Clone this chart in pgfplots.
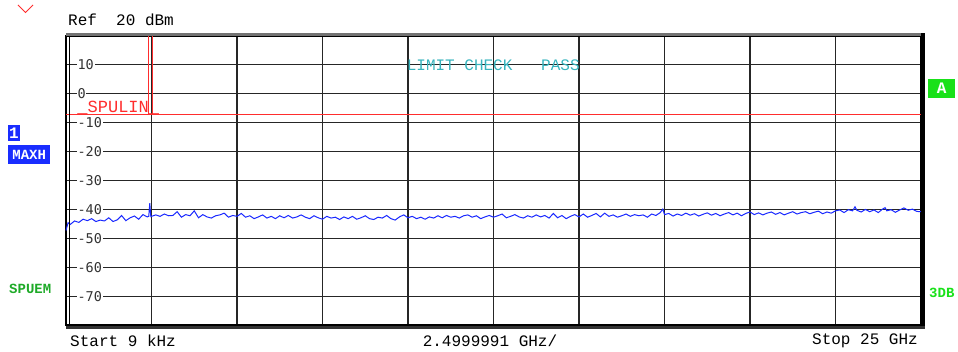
\documentclass[border=0pt]{standalone}
\usepackage{pgfplots}
\pgfplotsset{compat=1.18}
\usepackage{pgfplotstable}
\usepackage{fontspec}
\setmainfont{Liberation Mono}
\newfontfamily\tickfont{DejaVu Sans Mono}
\definecolor{trace}{RGB}{25,40,255}
\definecolor{lim}{RGB}{255,45,45}
\definecolor{cyantxt}{RGB}{55,180,190}
\definecolor{grn}{RGB}{30,170,40}
\definecolor{brgrn}{RGB}{25,225,25}
\definecolor{boxblue}{RGB}{25,45,255}
\pgfplotstableread{
f v
0.000 -47.3
0.060 -44.6
0.125 -45.2
0.250 -44.0
0.375 -44.5
0.500 -43.4
0.625 -43.9
0.750 -43.2
0.875 -44.2
1.000 -43.7
1.125 -44.0
1.250 -42.9
1.375 -44.2
1.500 -43.6
1.625 -42.1
1.750 -43.9
1.875 -42.9
2.000 -42.3
2.125 -43.4
2.250 -41.8
2.375 -42.6
2.420 -42.4
2.450 -37.8
2.480 -42.5
2.625 -41.9
2.750 -42.4
2.875 -41.6
3.000 -42.2
3.125 -42.1
3.250 -40.8
3.375 -42.7
3.500 -41.8
3.625 -42.2
3.750 -40.5
3.875 -42.9
4.000 -41.8
4.125 -42.6
4.250 -43.0
4.375 -42.2
4.500 -41.9
4.625 -41.3
4.750 -42.7
4.875 -42.1
5.000 -42.4
5.125 -41.4
5.250 -42.7
5.375 -42.2
5.500 -43.2
5.625 -42.6
5.750 -41.9
5.875 -43.0
6.000 -42.4
6.125 -43.2
6.250 -42.2
6.375 -42.9
6.500 -42.1
6.625 -43.0
6.750 -42.6
6.875 -41.9
7.000 -42.7
7.125 -43.2
7.250 -42.2
7.375 -42.9
7.500 -43.4
7.625 -42.4
7.750 -43.0
7.875 -42.7
8.000 -43.5
8.125 -42.6
8.250 -43.2
8.375 -42.4
8.500 -43.4
8.625 -42.9
8.750 -42.2
8.875 -43.2
9.000 -43.5
9.125 -42.7
9.250 -43.0
9.375 -42.1
9.500 -43.2
9.625 -43.7
9.750 -42.6
9.875 -41.9
10.000 -42.9
10.125 -42.4
10.250 -43.2
10.375 -42.7
10.500 -43.4
10.625 -42.6
10.750 -43.0
10.875 -42.2
11.000 -42.9
11.125 -42.1
11.250 -42.7
11.375 -42.4
11.500 -43.0
11.625 -42.2
11.750 -41.9
11.875 -42.7
12.000 -42.2
12.125 -43.2
12.250 -42.6
12.375 -42.1
12.500 -42.7
12.625 -42.2
12.750 -41.6
12.875 -42.9
13.000 -42.4
13.125 -41.8
13.250 -42.6
13.375 -43.0
13.500 -42.2
13.625 -42.7
13.750 -41.9
13.875 -42.6
14.000 -42.1
14.125 -43.0
14.250 -41.4
14.375 -42.9
14.500 -42.1
14.625 -43.2
14.750 -42.4
14.875 -41.8
15.000 -42.6
15.125 -41.6
15.250 -42.7
15.375 -42.1
15.500 -41.4
15.625 -42.6
15.750 -41.3
15.875 -42.4
16.000 -41.9
16.125 -42.7
16.250 -42.2
16.375 -41.6
16.500 -42.4
16.625 -41.8
16.750 -42.2
16.875 -41.9
17.000 -42.7
17.125 -41.6
17.250 -42.1
17.375 -41.1
17.450 -39.9
17.500 -41.8
17.625 -41.4
17.750 -42.3
17.875 -41.6
18.000 -42.1
18.125 -41.3
18.250 -42.0
18.375 -41.5
18.500 -42.3
18.625 -41.7
18.750 -41.2
18.875 -42.0
19.000 -41.4
19.125 -42.2
19.250 -41.6
19.375 -41.1
19.500 -41.9
19.625 -41.3
19.750 -42.2
19.875 -41.4
20.000 -40.9
20.125 -41.8
20.250 -41.2
20.375 -41.9
20.500 -41.3
20.625 -40.9
20.750 -41.7
20.875 -41.1
21.000 -41.9
21.125 -41.3
21.250 -40.8
21.375 -41.6
21.500 -41.1
21.625 -40.8
21.750 -41.5
21.875 -41.0
22.000 -40.6
22.125 -41.5
22.250 -40.9
22.375 -41.3
22.500 -40.5
22.625 -40.2
22.750 -41.1
22.875 -40.1
23.000 -40.5
23.070 -39.1
23.125 -40.3
23.250 -40.9
23.375 -40.0
23.500 -40.8
23.625 -40.2
23.750 -41.1
23.875 -39.9
23.950 -39.4
24.000 -40.5
24.125 -40.1
24.250 -41.0
24.375 -40.2
24.500 -39.5
24.625 -40.3
24.750 -39.9
24.875 -40.7
25.000 -40.8
}\tracedata
\pgfplotstableread{
f v
0 -7.3
25 -7.3
}\limitline
\begin{document}
\fontsize{16}{18}\selectfont
\begin{tikzpicture}[x=1pt,y=1pt]
\path (0,0) rectangle (958,351);
% outside decorations (text)
\draw[lim, line width=1pt] (18,346) -- (25.5,338.5) -- (33,346);
\node[anchor=west, inner sep=0pt] at (68,331) {Ref~~20 dBm};
\node[fill=boxblue, text=white, font=\bfseries, inner sep=1pt, anchor=north west, minimum height=16pt, minimum width=11pt] at (8,226) {1};
\node[fill=boxblue, text=white, font=\fontsize{14}{16}\selectfont\bfseries, inner sep=1.5pt, anchor=north west, minimum height=19pt, minimum width=42pt] at (8,206) {MAXH};
\node[text=grn, font=\fontsize{14}{16}\selectfont\bfseries, anchor=west, inner sep=0pt] at (9,62) {SPUEM};
\node[fill=brgrn, text=white, font=\bfseries, inner sep=1pt, anchor=north west, minimum height=19pt, minimum width=27pt] at (928,272) {A};
\node[text=brgrn, font=\fontsize{14}{16}\selectfont\bfseries, anchor=west, inner sep=0pt] at (929,58) {3DB};
\node[anchor=west, inner sep=0pt] at (70,10) {Start 9 kHz};
\node[anchor=center, inner sep=0pt] at (490,10) {2.4999991 GHz/};
\node[anchor=east, inner sep=0pt] at (918,10) {Stop 25 GHz};
\begin{axis}[
  at={(66pt,26pt)}, anchor=south west,
  scale only axis, width=855pt, height=289pt,
  xmin=0, xmax=25, ymin=-80, ymax=20,
  xtick={0,2.5,...,25}, xticklabels={},
  ytick={-70,-60,...,10},
  major tick length=0pt,
  grid=major,
  grid style={black!85, line width=1.1pt},
  axis line style={black, line width=1.2pt},
  yticklabel style={anchor=west, xshift=10.5pt, fill=white, inner sep=0.8pt,
    font=\tickfont\fontsize{13.5}{14}\selectfont, text=black!80},
  /pgf/number format/assume math mode=true,
  clip=false,
]
\addplot[trace, line width=1pt] table[x=f, y=v] {\tracedata};
\addplot[lim, line width=1.2pt] table[x=f, y=v] {\limitline};
\addplot[lim, line width=1.1pt] coordinates {(2.42,20) (2.42,-7.3)};
\addplot[lim, line width=1.1pt] coordinates {(2.53,20) (2.53,-7.3)};
\node[text=lim, anchor=base west, inner sep=0pt, text height=9.5pt, text depth=2pt, font=\fontsize{17}{19}\selectfont] at (axis cs:0.33,-6.35) {\_SPULIN\_};
\node[text=cyantxt, anchor=west, inner sep=0pt] at (axis cs:9.96,10) {LIMIT CHECK~~~PASS};
\draw[black!55, line width=3pt] ([yshift=1.5pt]rel axis cs:0,1) -- ([yshift=1.5pt]rel axis cs:1,1);
\draw[black, line width=1pt] ([xshift=3pt]rel axis cs:0,0) -- ([xshift=3pt]rel axis cs:0,1);
\draw[black, line width=3.5pt] ([xshift=2pt]rel axis cs:1,-0.01) -- ([xshift=2pt]rel axis cs:1,1.01);
\draw[black!80, line width=3pt] ([yshift=-2pt]rel axis cs:0,0) -- ([yshift=-2pt, xshift=3.5pt]rel axis cs:1,0);
\end{axis}
\end{tikzpicture}
\end{document}
